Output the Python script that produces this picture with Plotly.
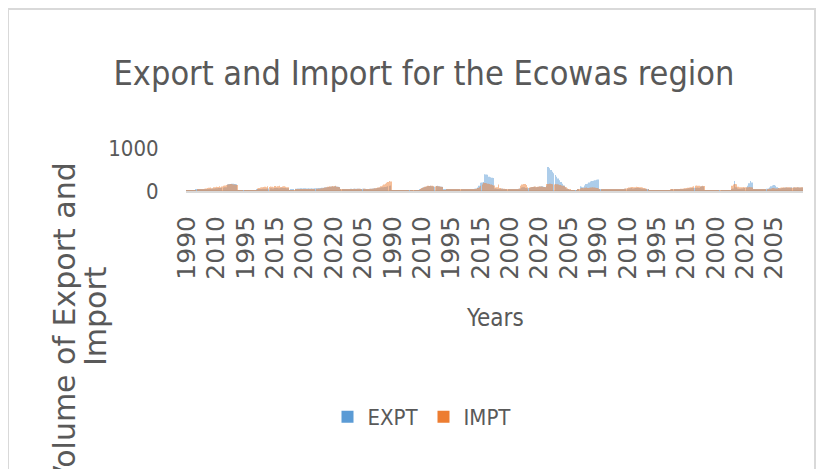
import plotly.graph_objects as go

# ---- data ----
YEARS = list(range(1990, 2025))  # 35 years per block, 12 blocks

EXPT1 = [12,14,15,18,20,22,25,24,28,30,32,35,38,40,45,48,50,55,58,60,62,65,70,72,75,80,85,90,150,160,165,170,168,162,158]
IMPT1 = [10,12,14,15,18,20,22,25,30,35,40,45,50,60,70,75,80,65,90,85,100,95,110,90,105,120,130,140,150,155,160,158,150,145,140]
EXPT2 = [5,5,6,6,7,7,8,8,9,9,10,10,12,30,35,40,45,50,55,52,60,58,65,62,60,70,68,72,65,70,75,72,68,66,64]
IMPT2 = [4,4,5,5,6,6,7,8,8,9,10,12,15,60,70,80,90,95,100,85,110,95,105,100,90,115,100,110,120,95,105,110,100,90,85]
EXPT3 = [20,25,30,35,50,55,60,58,62,60,65,63,60,62,58,65,60,62,64,66,70,72,75,78,80,85,90,95,100,105,100,110,105,100,95]
IMPT3 = [15,18,20,22,30,32,35,34,36,35,40,38,35,40,42,45,44,48,50,52,55,60,65,70,80,90,100,110,105,115,110,120,100,95,90]
EXPT4 = [40,42,45,44,46,48,45,50,48,52,50,55,53,50,48,52,55,50,45,48,50,55,60,62,65,70,75,80,85,90,95,100,110,120,130]
IMPT4 = [35,38,40,42,40,45,42,48,46,50,48,52,50,48,45,50,52,48,44,46,50,55,60,65,70,80,90,110,130,150,170,190,210,230,220]
EXPT5 = [2,2,1,1,1,1,2,2,2,1,1,1,2,2,2,3,3,4,5,40,60,80,90,100,110,115,120,110,105,100,115,120,110,105,100]
IMPT5 = [2,2,1,1,1,1,2,2,2,1,1,1,2,2,2,3,3,4,5,50,70,90,100,110,120,115,125,120,110,105,115,110,105,100,95]
EXPT6 = [30,28,32,30,35,33,30,28,32,35,30,33,36,34,30,32,35,38,40,42,45,50,60,80,120,190,200,210,390,385,380,330,320,310,300]
IMPT6 = [20,22,25,24,26,28,25,24,26,28,25,27,30,28,26,28,30,32,35,38,40,45,55,70,90,120,150,190,185,180,170,160,150,140,130]
EXPT7 = [60,50,45,40,50,60,40,35,30,32,35,30,28,30,32,35,40,60,80,90,85,70,60,70,80,90,95,100,90,95,100,105,110,100,95]
IMPT7 = [80,90,150,70,60,55,50,45,40,38,35,33,30,32,35,38,50,120,150,165,160,140,90,80,85,95,100,105,95,100,110,105,100,95,90]
EXPT8 = [120,560,530,490,450,410,370,330,290,250,210,170,130,90,50,30,20,15,12,15,18,25,40,110,100,90,130,160,170,200,220,230,240,250,260]
IMPT8 = [160,165,170,160,155,150,160,155,150,140,130,120,110,90,60,40,30,20,15,18,20,25,35,60,70,65,75,80,70,75,80,85,80,75,70]
EXPT9 = [270,40,35,38,40,42,38,36,40,42,45,40,38,36,40,42,45,48,50,52,55,60,65,70,60,65,70,75,70,65,60,55,50,45,40]
IMPT9 = [60,30,28,30,32,35,30,28,32,35,38,35,32,30,35,38,40,45,50,60,70,80,90,95,85,90,100,95,90,85,80,70,60,50,40]
EXPT10 = [20,10,5,3,2,2,2,2,2,2,2,3,3,4,20,25,30,32,35,38,40,42,45,48,50,55,60,62,65,70,72,75,78,80,75]
IMPT10 = [20,10,5,3,2,2,2,2,2,2,2,3,3,4,25,30,35,40,42,45,48,50,55,60,65,70,75,80,90,100,110,120,130,125,120]
EXPT11 = [100,110,105,5,3,2,2,2,2,2,2,2,2,2,2,2,2,3,3,5,8,40,60,230,90,60,50,55,60,65,70,80,120,180,230]
IMPT11 = [110,120,115,5,3,2,2,2,2,2,2,2,2,2,2,2,2,3,3,5,8,120,150,160,155,100,90,85,90,95,90,85,90,95,90]
EXPT12 = [200,30,25,30,35,40,38,35,40,45,50,60,80,110,130,140,120,90,70,60,65,70,75,80,78,75,80,85,82,80,78,85,80,75,80]
IMPT12 = [80,30,28,30,32,35,34,33,36,38,40,45,50,60,70,65,60,60,70,75,80,85,80,85,90,85,80,75,80,85,90,85,80,85,90]

EXPT = (EXPT1 + EXPT2 + EXPT3 + EXPT4 + EXPT5 + EXPT6 +
        EXPT7 + EXPT8 + EXPT9 + EXPT10 + EXPT11 + EXPT12)
IMPT = (IMPT1 + IMPT2 + IMPT3 + IMPT4 + IMPT5 + IMPT6 +
        IMPT7 + IMPT8 + IMPT9 + IMPT10 + IMPT11 + IMPT12)
YEAR_LABELS = YEARS * 12
IDX = list(range(len(EXPT)))
TICK_IDX = IDX[::20]
TICK_TEXT = [str(YEAR_LABELS[i]) for i in TICK_IDX]

# ---- geometry (page has an 8px body margin) ----
OFF = 8
W, H = 816, 461
L, R, T, B = 178, 21, 140, 278
PW, PH = W - L - R, H - T - B

def px(x):  # page pixel -> paper x
    return (x - OFF - L) / PW

def py(y):  # page pixel -> paper y
    return (H - B - (y - OFF)) / PH

def cx(x):
    return (x - OFF) / W

def cy(y):
    return 1 - (y - OFF) / H

NARROW = "Liberation Sans Narrow, Arial Narrow, DejaVu Sans Condensed, sans-serif"
GREY = "#595959"
BAR_ALPHA = [0.5] * len(IDX)

fig = go.Figure()
fig.add_trace(go.Bar(x=IDX, y=EXPT, name="EXPT",
                     marker=dict(color="#5B9BD5", opacity=BAR_ALPHA, line=dict(width=0))))
fig.add_trace(go.Bar(x=IDX, y=IMPT, name="IMPT",
                     marker=dict(color="#ED7D31", opacity=BAR_ALPHA, line=dict(width=0))))

fig.update_layout(
    width=W, height=H,
    margin=dict(l=L, r=R, t=T, b=B),
    paper_bgcolor="white", plot_bgcolor="white",
    barmode="group", bargap=0.4, bargroupgap=0,
    title=dict(text="Export and Import for the Ecowas region",
               font=dict(family=NARROW, size=34, color=GREY),
               x=cx(424), xanchor="center", xref="container",
               y=cy(73), yanchor="middle", yref="container"),
    legend=dict(orientation="h", xref="container", yref="container",
                x=cx(422), xanchor="center", y=cy(417), yanchor="middle",
                font=dict(family=NARROW, size=22, color=GREY),
                traceorder="normal"),
    xaxis=dict(tickmode="array", tickvals=TICK_IDX, ticktext=TICK_TEXT,
               tickangle=-90, range=[-0.5, len(IDX) - 0.5],
               tickfont=dict(family="DejaVu Sans", size=25, color=GREY),
               ticks="outside", ticklen=14, tickcolor="rgba(0,0,0,0)",
               showgrid=False, zeroline=False, showline=False),
    yaxis=dict(range=[0, 1000], tickvals=[0, 1000], ticktext=["0", "1000"],
               tickfont=dict(family=NARROW, size=22, color=GREY),
               ticks="outside", ticklen=22, tickcolor="rgba(0,0,0,0)",
               showgrid=True, gridcolor="#d9d9d9", gridwidth=3,
               zeroline=True, zerolinecolor="#d9d9d9", zerolinewidth=3,
               showline=False),
    showlegend=True,
)

fig.add_annotation(text="Years", xref="paper", yref="paper",
                   x=px(495), y=py(318), xanchor="center", yanchor="middle",
                   showarrow=False, font=dict(family=NARROW, size=24, color=GREY))
fig.add_annotation(text="Volume of Export and", xref="paper", yref="paper",
                   x=px(64), y=py(324), xanchor="center", yanchor="middle",
                   textangle=-90, showarrow=False,
                   font=dict(family="DejaVu Sans", size=30, color=GREY))
fig.add_annotation(text="Import", xref="paper", yref="paper",
                   x=px(95), y=py(316), xanchor="center", yanchor="middle",
                   textangle=-90, showarrow=False,
                   font=dict(family="DejaVu Sans", size=30, color=GREY))

fig.add_shape(type="rect", xref="paper", yref="paper",
              x0=px(8), x1=px(815), y0=py(490), y1=py(9),
              line=dict(color="#d9d9d9", width=2), fillcolor="rgba(0,0,0,0)", layer="below")

fig.write_html("out.html")
